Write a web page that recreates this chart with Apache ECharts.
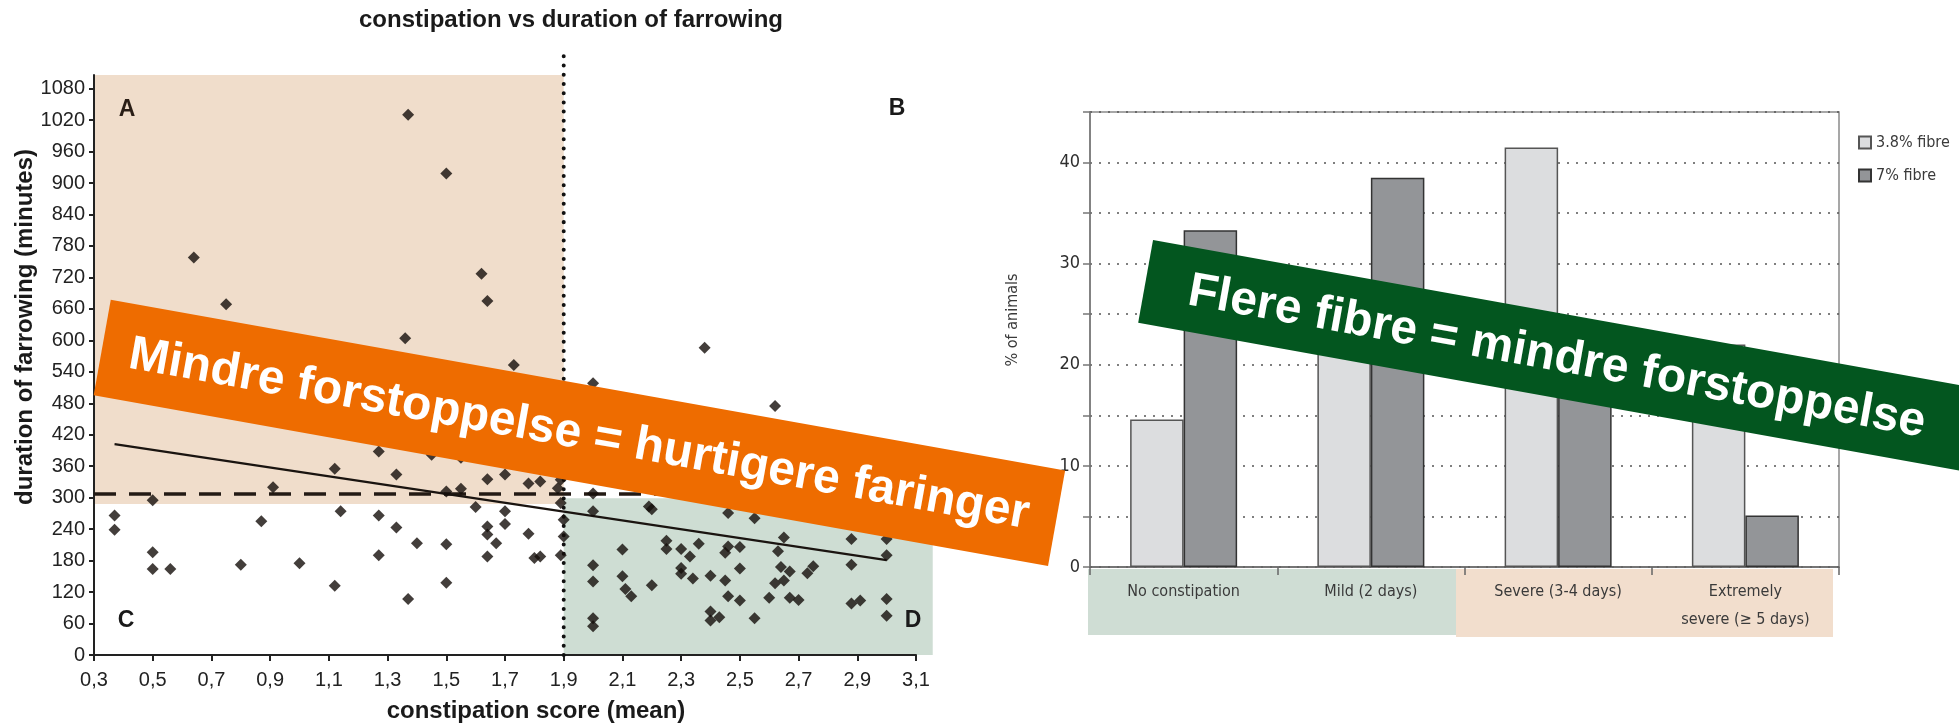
<!DOCTYPE html>
<html><head><meta charset="utf-8">
<script src="https://cdn.jsdelivr.net/npm/echarts@6/dist/echarts.min.js"></script>
<style>html,body{margin:0;padding:0;background:#fff}#c{width:1959px;height:724px}</style>
</head><body><div id="c"></div>
<script>
// ---------- Left chart: constipation vs duration of farrowing ----------
const scatterPoints = [
  [0.37,266],[0.37,239],[0.5,295],[0.5,196],[0.5,164],[0.56,164],[0.64,758],[0.75,669],[0.8,172],[0.87,255],
  [0.91,320],[1.0,175],[1.12,355],[1.12,132],[1.14,274],[1.27,388],[1.27,266],[1.27,190],[1.33,344],[1.33,243],
  [1.36,604],[1.37,1030],[1.37,107],[1.40,213],[1.45,382],[1.5,918],[1.5,312],[1.5,211],[1.5,138],[1.55,317],
  [1.55,376],[1.60,282],[1.62,727],[1.64,675],[1.64,335],[1.64,245],[1.64,230],[1.64,188],[1.67,213],[1.70,344],
  [1.70,274],[1.70,250],[1.73,553],[1.78,327],[1.78,231],[1.80,185],[1.82,331],[1.82,188],[1.88,318],[1.89,334],
  [1.89,290],[1.89,190],[1.90,258],[1.90,226],
  [2.0,518],[2.0,308],[2.0,274],[2.0,171],[2.0,140],[2.0,70],[2.0,55],[2.1,201],[2.1,150],[2.11,126],
  [2.13,112],[2.19,283],[2.2,278],[2.2,133],[2.25,218],[2.25,202],[2.30,202],[2.30,166],[2.30,155],[2.33,188],
  [2.34,146],[2.36,212],[2.38,586],[2.40,151],[2.40,83],[2.40,66],[2.43,72],[2.45,195],[2.45,142],[2.46,271],
  [2.46,207],[2.46,112],[2.50,206],[2.50,165],[2.50,104],[2.55,261],[2.55,70],[2.60,109],[2.62,475],[2.62,137],
  [2.63,198],[2.64,168],[2.65,224],[2.65,142],[2.67,159],[2.67,109],[2.70,105],[2.73,156],[2.75,169],[2.88,221],
  [2.88,172],[2.88,98],[2.91,104],[3.0,221],[3.0,190],[3.0,107],[3.0,75]
];
const trendLine = [[0.37, 402], [3.0, 181]];
const meanDurationLine = [[0.3, 307], [3.1, 307]];
const meanScoreLine = [[1.9, 0, 1.9, 1154]];
const quadrantShades = [[0.3, 1.9, 288, 1106], [1.9, 3.157, 0, 299]];
const quadrantColors = ['#F0DDCB', '#CEDDD3'];
const scoreTicks = [0.3,0.5,0.7,0.9,1.1,1.3,1.5,1.7,1.9,2.1,2.3,2.5,2.7,2.9,3.1];
const durationTicks = [0,60,120,180,240,300,360,420,480,540,600,660,720,780,840,900,960,1020,1080];

// ---------- Right chart: % of animals by constipation class ----------
const fibreCategories = ['No constipation', 'Mild (2 days)', 'Severe (3-4 days)', 'Extremely\nsevere (\u2265 5 days)'];
const fibreLow = [14.6, 22.0, 41.5, 22.0];   // 3.8% fibre
const fibreHigh = [33.3, 38.5, 23.1, 5.1];   // 7% fibre

const NARROW = '"DejaVu Sans Condensed","Liberation Sans Narrow",sans-serif';
const SANS = '"Liberation Sans",Arial,sans-serif';

const chart = echarts.init(document.getElementById('c'), null, {renderer: 'canvas'});
const deg = Math.PI / 180;

chart.setOption({
  animation: false,
  backgroundColor: '#ffffff',
  textStyle: {fontFamily: SANS},
  grid: [
    {left: 94, right: 1043, top: 75, bottom: 69, containLabel: false},
    {left: 1090, right: 120, top: 112, bottom: 157, containLabel: false,
     show: true, borderColor: '#8a8a8a', borderWidth: 1.5, backgroundColor: 'transparent'}
  ],
  legend: {
    data: ['3.8% fibre', '7% fibre'],
    orient: 'vertical', left: 1853, top: 127,
    itemWidth: 12, itemHeight: 12, itemGap: 12, icon: 'rect',
    textStyle: {fontFamily: NARROW, fontSize: 16, lineHeight: 21, color: '#3a3a3a'}
  },
  xAxis: [
    {gridIndex: 0, type: 'value', min: 0.3, max: 3.1,
     axisLine: {show: true, lineStyle: {color: '#222', width: 2}},
     axisTick: {show: true, length: 6, lineStyle: {color: '#222', width: 2}, customValues: scoreTicks},
     axisLabel: {fontSize: 20, color: '#222', margin: 15, customValues: scoreTicks,
                 formatter: v => v.toFixed(1).replace('.', ',')},
     splitLine: {show: false}},
    {gridIndex: 1, type: 'category', data: fibreCategories,
     axisLine: {show: true, lineStyle: {color: '#666', width: 1.5}},
     axisTick: {show: true, length: 8, lineStyle: {color: '#666', width: 1.5}},
     axisLabel: {fontFamily: NARROW, fontSize: 16, lineHeight: 28, color: '#3a3a3a', margin: 11, interval: 0},
     splitLine: {show: false}}
  ],
  yAxis: [
    {gridIndex: 0, type: 'value', min: 0, max: 1106,
     axisLine: {show: true, lineStyle: {color: '#222', width: 2}},
     axisTick: {show: true, length: 5, lineStyle: {color: '#222', width: 2}, customValues: durationTicks},
     axisLabel: {fontSize: 20, color: '#222', margin: 9, customValues: durationTicks,
                 formatter: v => String(v)},
     splitLine: {show: false}},
    {gridIndex: 1, type: 'value', min: 0, max: 45, interval: 5,
     axisLine: {show: true, lineStyle: {color: '#777', width: 1.5}},
     axisTick: {show: true, length: 7, lineStyle: {color: '#777', width: 1.5}},
     axisLabel: {fontFamily: NARROW, fontSize: 18, color: '#2e2e2e', margin: 10,
                 formatter: v => (v % 10 === 0 && v < 45) ? String(v) : ''},
     splitLine: {show: true, lineStyle: {color: '#555', width: 1.5, type: [2, 7]}}}
  ],
  series: [
    {type: 'custom', name: 'quadrants', xAxisIndex: 0, yAxisIndex: 0, clip: false, z: 0,
     data: quadrantShades, encode: {x: [0, 1], y: [2, 3]}, silent: true,
     renderItem: (params, api) => {
       const p0 = api.coord([api.value(0), api.value(3)]);
       const p1 = api.coord([api.value(1), api.value(2)]);
       return {type: 'rect', shape: {x: p0[0], y: p0[1], width: p1[0] - p0[0], height: p1[1] - p0[1]},
               style: {fill: quadrantColors[params.dataIndex]}};
     }},
    {type: 'custom', name: 'meanScore', xAxisIndex: 0, yAxisIndex: 0, clip: false, z: 1,
     data: meanScoreLine, encode: {x: [0, 2], y: [1, 3]}, silent: true,
     renderItem: (params, api) => {
       const p0 = api.coord([api.value(0), api.value(1)]);
       const p1 = api.coord([api.value(2), api.value(3)]);
       return {type: 'line', shape: {x1: p0[0], y1: p0[1], x2: p1[0], y2: p1[1]},
               style: {stroke: '#111', lineWidth: 4, lineDash: [0.01, 9.2], lineCap: 'round'}};
     }},
    {type: 'line', name: 'meanDuration', xAxisIndex: 0, yAxisIndex: 0, data: meanDurationLine,
     symbol: 'none', z: 2, lineStyle: {color: '#231a14', width: 3.5, type: [22, 13]}},
    {type: 'line', name: 'trend', xAxisIndex: 0, yAxisIndex: 0, data: trendLine,
     symbol: 'none', z: 2, lineStyle: {color: '#1a1410', width: 2.2}},
    {type: 'scatter', name: 'sows', xAxisIndex: 0, yAxisIndex: 0, data: scatterPoints,
     symbol: 'diamond', symbolSize: 12, z: 3, itemStyle: {color: '#140e0a'}},
    {type: 'bar', name: '3.8% fibre', xAxisIndex: 1, yAxisIndex: 1, data: fibreLow,
     barWidth: 53.5, barGap: '0%', z: 3,
     itemStyle: {color: '#DCDDDF', borderColor: '#555', borderWidth: 1.5}},
    {type: 'bar', name: '7% fibre', xAxisIndex: 1, yAxisIndex: 1, data: fibreHigh,
     barWidth: 53.5, barGap: '0%', z: 3,
     itemStyle: {color: '#939598', borderColor: '#333', borderWidth: 1.5}}
  ],
  graphic: [
    // category label bands of the right chart
    {type: 'rect', z: -10, shape: {x: 1088, y: 569, width: 368, height: 66}, style: {fill: '#CFDDD4'}},
    {type: 'rect', z: -10, shape: {x: 1456, y: 569, width: 377, height: 68}, style: {fill: '#F2DECD'}},
    // texts of the left chart
    {type: 'text', x: 571, y: 20, z: 5, style: {text: 'constipation vs duration of farrowing', font: 'bold 24px ' + SANS,
      fill: '#1a1a1a', align: 'center', verticalAlign: 'middle'}},
    {type: 'text', x: 536, y: 711, z: 5, style: {text: 'constipation score (mean)', font: 'bold 24px ' + SANS,
      fill: '#1a1a1a', align: 'center', verticalAlign: 'middle'}},
    {type: 'text', x: 25, y: 327, rotation: Math.PI / 2, z: 5, style: {text: 'duration of farrowing (minutes)',
      font: 'bold 24px ' + SANS, fill: '#1a1a1a', align: 'center', verticalAlign: 'middle'}},
    {type: 'text', x: 127, y: 110, z: 5, style: {text: 'A', font: 'bold 23px ' + SANS, fill: '#2a1e16', align: 'center', verticalAlign: 'middle'}},
    {type: 'text', x: 897, y: 109, z: 5, style: {text: 'B', font: 'bold 23px ' + SANS, fill: '#1a1a1a', align: 'center', verticalAlign: 'middle'}},
    {type: 'text', x: 126, y: 621, z: 5, style: {text: 'C', font: 'bold 23px ' + SANS, fill: '#1a1a1a', align: 'center', verticalAlign: 'middle'}},
    {type: 'text', x: 913, y: 621, z: 5, style: {text: 'D', font: 'bold 23px ' + SANS, fill: '#1a1a1a', align: 'center', verticalAlign: 'middle'}},
    // right chart y-axis title
    {type: 'text', x: 1013, y: 320, rotation: Math.PI / 2, z: 5, style: {text: '% of animals',
      font: '16px ' + NARROW, fill: '#3a3a3a', align: 'center', verticalAlign: 'middle'}},
    // orange banner
    {type: 'group', x: 579.4, y: 432.9, rotation: -10.14 * deg, z: 100, children: [
      {type: 'rect', z: 100, shape: {x: -484.75, y: -48.5, width: 969.5, height: 97}, style: {fill: '#EE6C00'}},
      {type: 'text', z: 101, x: 0, y: 2, style: {text: 'Mindre forstoppelse = hurtigere faringer',
        font: 'bold 48px ' + SANS, fill: '#ffffff', align: 'center', verticalAlign: 'middle'}}
    ]},
    // green banner
    {type: 'group', x: 1637.7, y: 369.9, rotation: -10.2 * deg, z: 100, children: [
      {type: 'rect', z: 100, shape: {x: -500, y: -42, width: 1000, height: 84}, style: {fill: '#03561F'}},
      {type: 'text', z: 101, x: -456, y: 2, style: {text: 'Flere fibre = mindre forstoppelse',
        font: 'bold 48px ' + SANS, fill: '#ffffff', align: 'left', verticalAlign: 'middle'}}
    ]}
  ]
});
</script>
</body></html>
